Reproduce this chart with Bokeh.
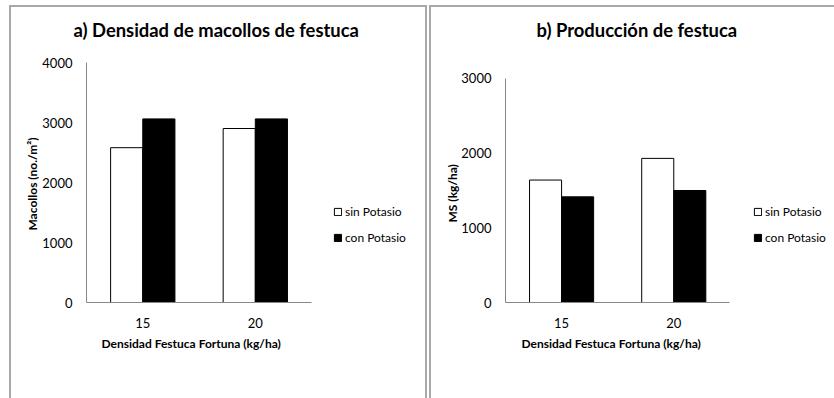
from bokeh.plotting import figure
from bokeh.layouts import row
from bokeh.models import (ColumnDataSource, Range1d, FixedTicker, LinearAxis,
                          Legend, LegendItem, Title)
from bokeh.embed import file_html
from bokeh.resources import INLINE

categories = ["15", "20"]
densidad_sin = [2580, 2900]
densidad_con = [3060, 3060]
produccion_sin = [1640, 1930]
produccion_con = [1415, 1500]
series_names = ["sin Potasio", "con Potasio"]
title_a = "a) Densidad de macollos de festuca"
title_b = "b) Producción de festuca"
xlabel = "Densidad Festuca Fortuna (kg/ha)"
ylabel_a = "Macollos  (no./m²)"
ylabel_b = "MS (kg/ha)"
yticks_a = [0, 1000, 2000, 3000, 4000]
yticks_b = [0, 1000, 2000, 3000]

FONT = "Lato"
AXIS_GRAY = "#868686"
BORDER = "#a8a8a8"
BAR_W = 1 / 3.5          # Excel gap width 150 %


def style_axis(ax):
    ax.axis_line_color = AXIS_GRAY
    ax.axis_line_width = 1
    ax.major_tick_line_color = None
    ax.minor_tick_line_color = None
    ax.major_tick_out = 0
    ax.major_tick_in = 0
    ax.minor_tick_out = 0
    ax.minor_tick_in = 0
    ax.major_label_text_font = FONT
    ax.major_label_text_font_size = "13px"
    ax.major_label_text_color = "black"
    ax.axis_label_text_font = FONT
    ax.axis_label_text_font_size = "12px"
    ax.axis_label_text_font_style = "bold"
    ax.axis_label_text_color = "black"


def make_panel(title, sin_vals, con_vals, ymax, yend, yticks, xend,
               width, height, mb_left, mb_top, mb_right, mb_bottom,
               title_offset, xlabel_offset, legend_loc, styles):
    centers = [i + 0.5 for i in range(len(categories))]
    src = ColumnDataSource(dict(
        xs=[c - BAR_W / 2 for c in centers],
        xc=[c + BAR_W / 2 for c in centers],
        sin=sin_vals, con=con_vals))
    p = figure(x_range=Range1d(0, xend), y_range=Range1d(0, yend),
               width=width, height=height, output_backend="svg",
               toolbar_location=None, title=None,
               min_border_left=mb_left, min_border_top=mb_top,
               min_border_right=mb_right, min_border_bottom=mb_bottom,
               styles=styles)
    p.outline_line_color = None
    p.background_fill_color = "white"
    p.border_fill_color = "white"
    p.xgrid.visible = False
    p.ygrid.visible = False

    xax = p.below[0]
    yax = p.left[0]
    style_axis(xax)
    style_axis(yax)

    yax.ticker = FixedTicker(ticks=yticks)
    yax.bounds = (0, ymax)
    yax.major_label_standoff = 14

    xax.ticker = FixedTicker(ticks=centers)
    xax.major_label_overrides = {c: lab for c, lab in zip(centers, categories)}
    xax.bounds = (0, len(categories))
    xax.major_label_standoff = 15

    r_sin = p.vbar(x="xs", top="sin", width=BAR_W, source=src,
                   fill_color="white", line_color="black", line_width=1)
    r_con = p.vbar(x="xc", top="con", width=BAR_W, source=src,
                   fill_color="black", line_color="black", line_width=1)

    # invisible spacer between the frame and the title
    spacer = LinearAxis(ticker=FixedTicker(ticks=[1]),
                        major_label_overrides={1: ""},
                        major_label_text_font_size="1px",
                        axis_line_color=None, major_tick_line_color="white",
                        minor_tick_line_color=None, major_tick_out=22,
                        major_tick_in=0, minor_tick_out=0, minor_tick_in=0,
                        major_label_standoff=0)
    p.add_layout(spacer, "above")

    t = Title(text=title, align="left", offset=title_offset,
              text_font=FONT, text_font_size="18.4px", text_font_style="bold",
              text_color="black", standoff=0)
    p.add_layout(t, "above")

    xt = Title(text=xlabel, align="left", offset=xlabel_offset,
               text_font=FONT, text_font_size="12px", text_font_style="bold",
               text_color="black", standoff=6)
    p.add_layout(xt, "below")

    legend = Legend(items=[LegendItem(label=series_names[0], renderers=[r_sin]),
                           LegendItem(label=series_names[1], renderers=[r_con])],
                    location=legend_loc, padding=0, margin=0, spacing=11,
                    glyph_width=9, glyph_height=9, label_standoff=3,
                    label_text_font=FONT, label_text_font_size="12px",
                    label_text_color="black", border_line_color=None,
                    background_fill_alpha=0)
    p.add_layout(legend, "center")
    return p, yax


p1, yax1 = make_panel(title_a, densidad_sin, densidad_con, 4000, 4000, yticks_a,
                      xend=3.03, width=418, height=400, mb_left=75, mb_top=55,
                      mb_right=2, mb_bottom=105, title_offset=-13,
                      xlabel_offset=15, legend_loc=(247, 57),
                      styles={"border-left": f"2px solid {BORDER}",
                              "border-top": f"2px solid {BORDER}",
                              "border-right": f"2px solid {BORDER}"})
yax1.axis_label = ylabel_a
yax1.axis_label_standoff = -1
p1.margin = (5, 0, 0, 9)

p2, yax2 = make_panel(title_b, produccion_sin, produccion_con, 3000, 3214, yticks_b,
                      xend=2.915, width=405, height=400, mb_left=74, mb_top=55,
                      mb_right=4, mb_bottom=105, title_offset=31,
                      xlabel_offset=16, legend_loc=(248, 57),
                      styles={"border-left": f"2px solid {BORDER}",
                              "border-top": f"2px solid {BORDER}"})
yt = Title(text=ylabel_b, align="left", offset=80, text_font=FONT,
           text_font_size="12px", text_font_style="bold", text_color="black",
           standoff=-2)
p2.add_layout(yt, "left")
p2.margin = (5, 0, 0, 2)

layout = row(p1, p2)
open("out.html", "w").write(file_html(layout, INLINE))
